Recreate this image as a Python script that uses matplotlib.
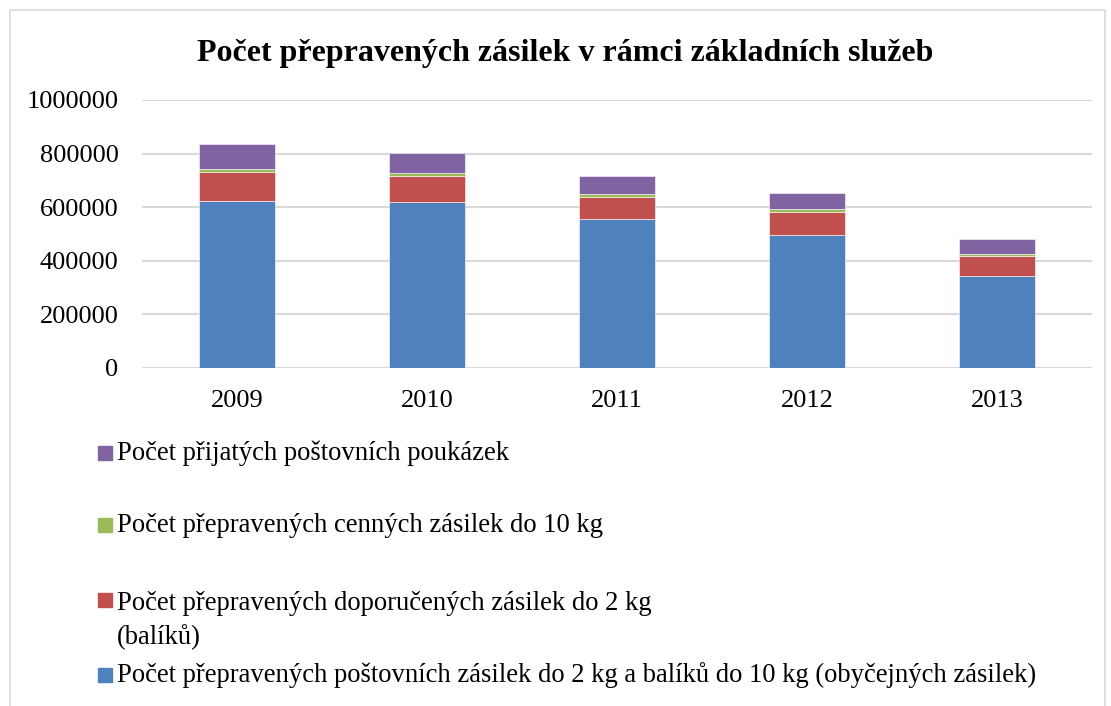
import matplotlib.pyplot as plt
from matplotlib.patches import Rectangle

# Data
roky = ["2009", "2010", "2011", "2012", "2013"]
obycejne = [622000, 618000, 557000, 495000, 342000]
doporucene = [108000, 99000, 82000, 88000, 77000]
cenne = [11000, 10000, 10000, 9000, 8000]
poukazky = [93000, 75000, 66000, 60000, 53000]

popisky = [
    "Počet přijatých poštovních poukázek",
    "Počet přepravených cenných zásilek do 10 kg",
    "Počet přepravených doporučených zásilek do 2 kg\n(balíků)",
    "Počet přepravených poštovních zásilek do 2 kg a balíků do 10 kg (obyčejných zásilek)",
]
barvy = ["#8064A2", "#9BBB59", "#C0504D", "#4F81BD"]

plt.rcParams['font.family'] = ['Liberation Serif', 'DejaVu Serif']

W, H = 1111, 706
fig = plt.figure(figsize=(W / 100, H / 100), dpi=100)
ax = fig.add_axes([142 / W, 1 - 368 / H, 950 / W, 268 / H])

x = range(len(roky))
sirka = 0.4
dno = [0] * len(roky)
for hodnoty, barva in zip([obycejne, doporucene, cenne, poukazky], barvy[::-1]):
    ax.bar(x, hodnoty, sirka, bottom=dno, color=barva, edgecolor="white",
           linewidth=0.4, zorder=3)
    dno = [d + h for d, h in zip(dno, hodnoty)]

ax.set_xlim(-0.5, 4.5)
ax.set_ylim(0, 1000000)
ax.set_yticks(range(0, 1000001, 200000))
ax.set_yticklabels([str(v) for v in range(0, 1000001, 200000)], fontsize=19)
ax.set_xticks(list(x))
ax.set_xticklabels(roky, fontsize=19)
ax.tick_params(axis="y", length=0, pad=17)
ax.tick_params(axis="x", length=0, pad=16)
ax.yaxis.grid(True, color="#d9d9d9", linewidth=1.5, zorder=0)
for s in ax.spines.values():
    s.set_visible(False)
ax.axhline(0, color="#d9d9d9", linewidth=1.5, zorder=2)

fig.text(565 / W, 1 - 53 / H, "Počet přepravených zásilek v rámci základních služeb",
         ha="center", va="center", fontsize=23, fontweight="bold")

# legenda rucne (rozlozeni jako v Excelu)
radky = [453, 525, 600, 675]
for popis, barva, y in zip(popisky, barvy, radky):
    fig.patches.append(Rectangle((98 / W, 1 - (y + 7) / H), 14 / W, 14 / H,
                                 transform=fig.transFigure, color=barva))
    if "\n" in popis:
        fig.text(117 / W, 1 - (y - 9) / H, popis, ha="left", va="top",
                 fontsize=19.2, linespacing=1.4)
    else:
        fig.text(117 / W, 1 - y / H, popis, ha="left", va="center", fontsize=19.2)

# vnejsi ramecek
fig.patches.append(Rectangle((10 / W, -0.01), 1095 / W, 1 - 10 / H + 0.01,
                             transform=fig.transFigure, fill=False,
                             edgecolor="#d9d9d9", linewidth=1.2))

fig.savefig("out.png", dpi=100)
